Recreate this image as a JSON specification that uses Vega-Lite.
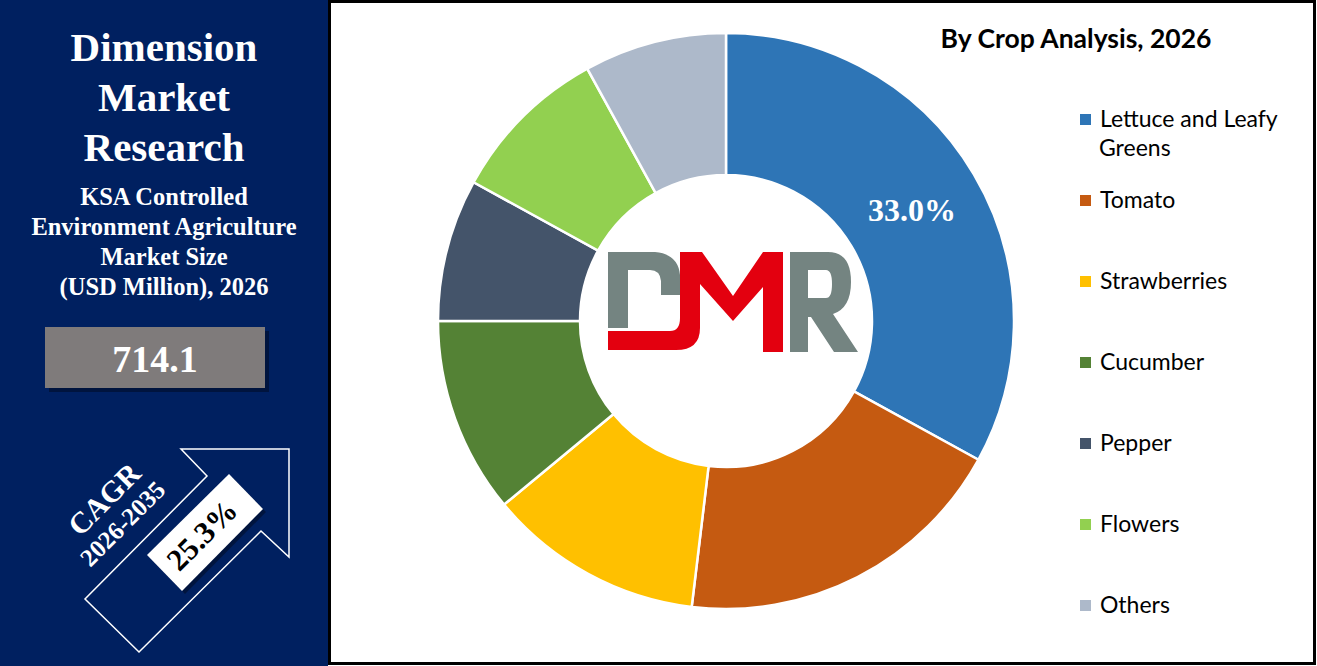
{
  "$schema": "https://vega.github.io/schema/vega-lite/v6.json",
  "width": 1317,
  "height": 666,
  "autosize": {"type": "fit", "contains": "padding"},
  "padding": 0,
  "background": "white",
  "config": {"view": {"stroke": null}},
  "datasets": {
    "crops": [
      {"rank": 1, "crop": "Lettuce and Leafy Greens", "share": 0.330},
      {"rank": 2, "crop": "Tomato", "share": 0.189},
      {"rank": 3, "crop": "Strawberries", "share": 0.121},
      {"rank": 4, "crop": "Cucumber", "share": 0.110},
      {"rank": 5, "crop": "Pepper", "share": 0.080},
      {"rank": 6, "crop": "Flowers", "share": 0.090},
      {"rank": 7, "crop": "Others", "share": 0.080}
    ]
  },
  "layer": [
    {"data": {"values": [{}]}, "mark": {"type": "rect", "fill": "#002060"},
     "encoding": {"x": {"value": 0}, "x2": {"value": 328}, "y": {"value": 0}, "y2": {"value": 666}}},
    {"data": {"values": [{}]}, "mark": {"type": "rect", "fill": "white", "stroke": "black", "strokeWidth": 3},
     "encoding": {"x": {"value": 329.5}, "x2": {"value": 1314.5}, "y": {"value": 1.5}, "y2": {"value": 663.5}}},
    {"data": {"values": [{}]}, "mark": {"type": "text", "text": "Dimension", "x": 164, "y": 61, "align": "center", "baseline": "alphabetic", "font": "Liberation Serif", "fontWeight": "bold", "fontSize": 41, "color": "white"}, "encoding": {}},
    {"data": {"values": [{}]}, "mark": {"type": "text", "text": "Market", "x": 164, "y": 111, "align": "center", "baseline": "alphabetic", "font": "Liberation Serif", "fontWeight": "bold", "fontSize": 41, "color": "white"}, "encoding": {}},
    {"data": {"values": [{}]}, "mark": {"type": "text", "text": "Research", "x": 164, "y": 161, "align": "center", "baseline": "alphabetic", "font": "Liberation Serif", "fontWeight": "bold", "fontSize": 41, "color": "white"}, "encoding": {}},
    {"data": {"values": [{}]}, "mark": {"type": "text", "text": "KSA Controlled", "x": 164, "y": 205, "align": "center", "baseline": "alphabetic", "font": "Liberation Serif", "fontWeight": "bold", "fontSize": 24.5, "color": "white"}, "encoding": {}},
    {"data": {"values": [{}]}, "mark": {"type": "text", "text": "Environment Agriculture", "x": 164, "y": 235, "align": "center", "baseline": "alphabetic", "font": "Liberation Serif", "fontWeight": "bold", "fontSize": 24.5, "color": "white"}, "encoding": {}},
    {"data": {"values": [{}]}, "mark": {"type": "text", "text": "Market Size", "x": 164, "y": 265, "align": "center", "baseline": "alphabetic", "font": "Liberation Serif", "fontWeight": "bold", "fontSize": 24.5, "color": "white"}, "encoding": {}},
    {"data": {"values": [{}]}, "mark": {"type": "text", "text": "(USD Million), 2026", "x": 164, "y": 295, "align": "center", "baseline": "alphabetic", "font": "Liberation Serif", "fontWeight": "bold", "fontSize": 24.5, "color": "white"}, "encoding": {}},
    {"data": {"values": [{}]}, "mark": {"type": "rect", "fill": "black", "opacity": 0.35},
     "encoding": {"x": {"value": 49}, "x2": {"value": 269}, "y": {"value": 331}, "y2": {"value": 392}}},
    {"data": {"values": [{}]}, "mark": {"type": "rect", "fill": "#7F7B7B"},
     "encoding": {"x": {"value": 45}, "x2": {"value": 265}, "y": {"value": 327}, "y2": {"value": 388}}},
    {"data": {"values": [{}]}, "mark": {"type": "text", "text": "714.1", "x": 155, "y": 372, "align": "center", "baseline": "alphabetic", "font": "Liberation Serif", "fontWeight": "bold", "fontSize": 38, "color": "white"}, "encoding": {}},
    {"data": {"values": [{}]}, "mark": {"type": "point", "shape": "M-6,-101 L102,-101 L102,7 L74,-19 L-48,102 L-102,49 L20,-74 Z", "size": 4, "x": 187, "y": 550, "filled": false, "color": "white", "strokeWidth": 1.5, "opacity": 1}, "encoding": {}},
    {"data": {"values": [{}]}, "mark": {"type": "point", "shape": "M-58,23 L24,-58 L58,-23 L-23,59 Z", "size": 4, "x": 208, "y": 535, "filled": true, "color": "black", "opacity": 0.35}, "encoding": {}},
    {"data": {"values": [{}]}, "mark": {"type": "point", "shape": "M-58,23 L24,-58 L58,-23 L-23,59 Z", "size": 4, "x": 205, "y": 532, "filled": true, "color": "white", "opacity": 1}, "encoding": {}},
    {"data": {"values": [{}]}, "mark": {"type": "text", "text": "25.3%", "x": 203, "y": 536, "angle": -45, "align": "center", "baseline": "middle", "font": "Liberation Serif", "fontWeight": "bold", "fontSize": 31, "color": "black"}, "encoding": {}},
    {"data": {"values": [{}]}, "mark": {"type": "text", "text": "CAGR", "x": 105, "y": 500, "angle": -45, "align": "center", "baseline": "middle", "font": "Liberation Serif", "fontWeight": "bold", "fontSize": 30, "color": "white"}, "encoding": {}},
    {"data": {"values": [{}]}, "mark": {"type": "text", "text": "2026-2035", "x": 123, "y": 524, "angle": -45, "align": "center", "baseline": "middle", "font": "Liberation Serif", "fontWeight": "bold", "fontSize": 25, "color": "white"}, "encoding": {}},
    {"data": {"values": [{}]}, "mark": {"type": "text", "text": "By Crop Analysis, 2026", "x": 1076, "y": 48, "align": "center", "baseline": "alphabetic", "font": "Lato", "fontWeight": "bold", "fontSize": 26.5, "color": "black"}, "encoding": {}},
    {"data": {"values": [{}]}, "mark": {"type": "text", "text": "Greens", "x": 1099, "y": 156, "align": "left", "baseline": "alphabetic", "font": "Lato", "fontSize": 23, "color": "black"}, "encoding": {}},
    {"data": {"name": "crops"},
     "mark": {"type": "arc", "outerRadius": 288, "innerRadius": 146, "stroke": "white", "strokeWidth": 2.5},
     "encoding": {
       "x": {"value": 726},
       "y": {"value": 321},
       "theta": {"field": "share", "type": "quantitative", "stack": true},
       "order": {"field": "rank", "type": "quantitative", "sort": "ascending"},
       "color": {"field": "crop", "type": "nominal",
         "scale": {"domain": ["Lettuce and Leafy Greens", "Tomato", "Strawberries", "Cucumber", "Pepper", "Flowers", "Others"],
                   "range": ["#2E75B6", "#C55A11", "#FFC000", "#548235", "#44546A", "#92D050", "#ADB9CA"]},
         "legend": {"orient": "none", "legendX": 1074, "legendY": 108, "title": null, "symbolType": "square", "symbolSize": 121, "symbolStrokeWidth": 0,
                    "labelFont": "Lato", "labelFontSize": 23, "labelColor": "black", "labelLimit": 300, "labelOffset": 3, "rowPadding": 57,
                    "labelExpr": "datum.label == 'Lettuce and Leafy Greens' ? 'Lettuce and Leafy' : datum.label"}}
     }},
    {"data": {"name": "crops"},
     "mark": {"type": "text", "radius": 216, "font": "Liberation Serif", "fontWeight": "bold", "fontSize": 32, "color": "white", "align": "center", "baseline": "middle"},
     "encoding": {
       "x": {"value": 726},
       "y": {"value": 321},
       "theta": {"field": "share", "type": "quantitative", "stack": true},
       "order": {"field": "rank", "type": "quantitative", "sort": "ascending"},
       "detail": {"field": "crop", "type": "nominal"},
       "text": {"condition": {"test": "datum.crop === 'Lettuce and Leafy Greens'", "field": "share", "type": "quantitative", "format": ".1%"}, "value": ""}
     }},
    {"data": {"values": [{}]}, "mark": {"type": "point", "shape": "M608,252 L655,252 Q678,254 680,275 L680,295 L661,295 L661,281 Q660,270 650,270 L628,270 L628,328 L608,328 Z", "size": 4, "x": 0, "y": 0, "filled": true, "color": "#748481", "opacity": 1}, "encoding": {}},
    {"data": {"values": [{}]}, "mark": {"type": "point", "shape": "M790,252 L828,252 Q851,252 851,282 Q851,308 833,314 L858,352 L834,352 L811,317 L808,317 L808,352 L790,352 Z M808,270 L808,298 L826,298 Q832,298 832,284 Q832,270 826,270 Z", "size": 4, "x": 0, "y": 0, "filled": true, "color": "#748481", "opacity": 1}, "encoding": {}},
    {"data": {"values": [{}]}, "mark": {"type": "point", "shape": "M680,252 L702,252 L733,296 L763,252 L783,252 L783,352 L763,352 L763,287 L733,321 L700,284 L700,328 Q700,350 676,350 L608,350 L608,331 L670,331 Q680,331 680,318 Z", "size": 4, "x": 0, "y": 0, "filled": true, "color": "#E3000F", "opacity": 1}, "encoding": {}}
  ]
}
